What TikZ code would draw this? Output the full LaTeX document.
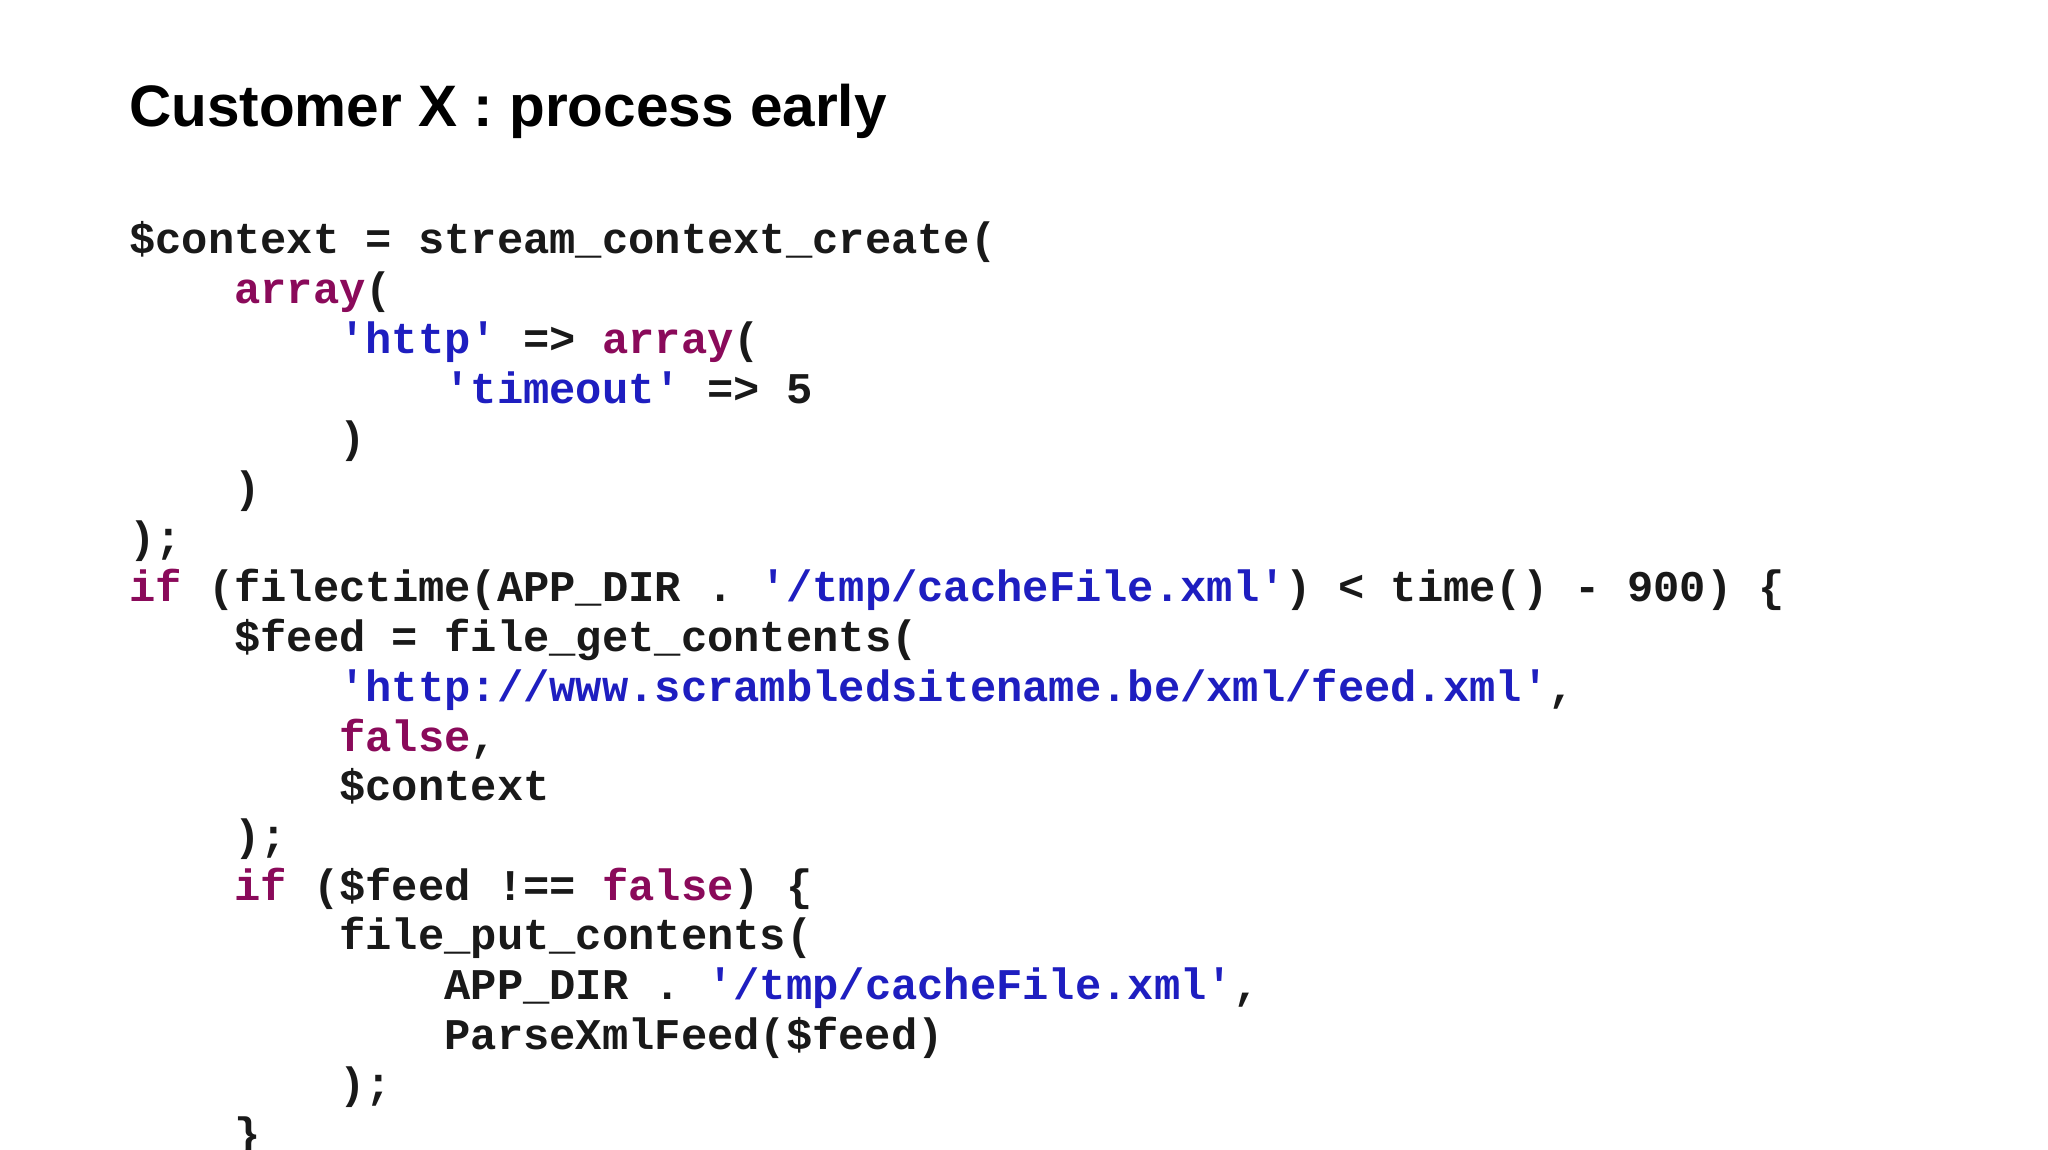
\documentclass[tikz,border=0pt]{standalone}
\usepackage{fontspec}
\setmainfont{Liberation Sans}
\newfontfamily\code{Liberation Mono}[BoldFont={Liberation Mono Bold}]
\definecolor{kw}{HTML}{8A0A5A}
\definecolor{str}{HTML}{1E1EC0}
\newcommand{\K}[1]{\textcolor{kw}{#1}}
\newcommand{\St}[1]{\textcolor{str}{#1}}
\begin{document}
\begin{tikzpicture}[x=1pt,y=-1pt,
  cl/.style={anchor=base west,inner sep=0pt,font=\code\bfseries\fontsize{43.8}{50}\selectfont,text=black!90}]
\useasboundingbox (0,0) rectangle (2048,1150);
\clip (0,0) rectangle (2048,1150);
\node[anchor=base west,inner sep=0pt,font=\bfseries\fontsize{58.5}{70}\selectfont] (title) at (129,127) {Customer X : process early};
\def\ind{105.1}
\def\ls{49.7}
\foreach \n/\l/\t in {
 1/0/{\$context = stream\_context\_create(},
 2/1/{\K{array}(},
 3/2/{\St{'http'} => \K{array}(},
 4/3/{\St{'timeout'} => 5},
 5/2/{)},
 6/1/{)},
 7/0/{);},
 8/0/{\K{if} (filectime(APP\_DIR . \St{'/tmp/cacheFile.xml'}) < time() - 900) \{},
 9/1/{\$feed = file\_get\_contents(},
 10/2/{\St{'http://www.scrambledsitename.be/xml/feed.xml'},},
 11/2/{\K{false},},
 12/2/{\$context},
 13/1/{);},
 14/1/{\K{if} (\$feed !== \K{false}) \{},
 15/2/{file\_put\_contents(},
 16/3/{APP\_DIR . \St{'/tmp/cacheFile.xml'},},
 17/3/{ParseXmlFeed(\$feed)},
 18/2/{);},
 19/1/{\}}}
 \node[cl] (line\n) at ({129+\l*\ind},{254+(\n-1)*\ls}) {\t};
\end{tikzpicture}
\end{document}
